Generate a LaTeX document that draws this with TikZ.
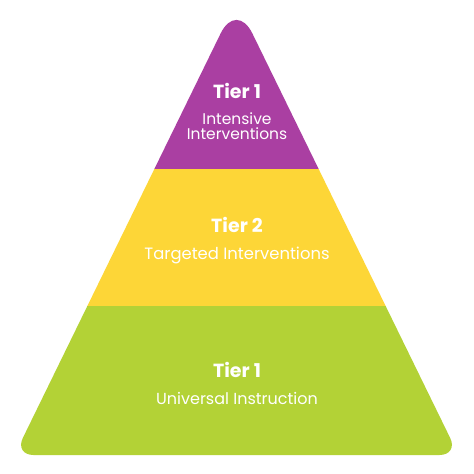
\documentclass[tikz,border=0pt]{standalone}
\usepackage{fontspec}
\setmainfont{Poppins}
\definecolor{tpurple}{HTML}{AA3FA2}
\definecolor{tyellow}{HTML}{FDD637}
\definecolor{tgreen}{HTML}{B3D236}
\begin{document}
\begin{tikzpicture}[x=1pt,y=-1pt,
  title/.style={text=white,inner sep=0pt,anchor=base,font=\bfseries\fontsize{19}{19}\selectfont},
  sub/.style={text=white,inner sep=0pt,anchor=base,font=\fontsize{15.5}{15.5}\selectfont}]
\useasboundingbox (0,0) rectangle (474,474);
\fill[white] (0,0) rectangle (474,474);
\begin{scope}
\clip (22.85,437.93)
  -- (220.69,33.34)
  .. controls (229.42,15.48) and (243.58,15.48) .. (252.31,33.34)
  -- (450.15,437.93)
  .. controls (454.76,447.36) and (449.99,455) .. (439.5,455)
  -- (33.5,455)
  .. controls (23.01,455) and (18.24,447.36) .. (22.85,437.93)
  -- cycle;
\fill[tpurple] (0,0) rectangle (474,169);
\fill[tyellow] (0,169) rectangle (474,305.5);
\fill[tgreen] (0,305.5) rectangle (474,474);
\end{scope}
\node[title] (t1) at (237,98.3) {Tier 1};
\node[sub] (s1a) at (237,124.2) {Intensive};
\node[sub] (s1b) at (237,139.5) {Interventions};
\node[title] (t2) at (237,232) {Tier 2};
\node[sub,font=\fontsize{16.4}{16.4}\selectfont] (s2) at (237,259.3) {Targeted Interventions};
\node[title] (t3) at (237,377) {Tier 1};
\node[sub,font=\fontsize{16}{16}\selectfont] (s3) at (237,404) {Universal Instruction};
\end{tikzpicture}
\end{document}
